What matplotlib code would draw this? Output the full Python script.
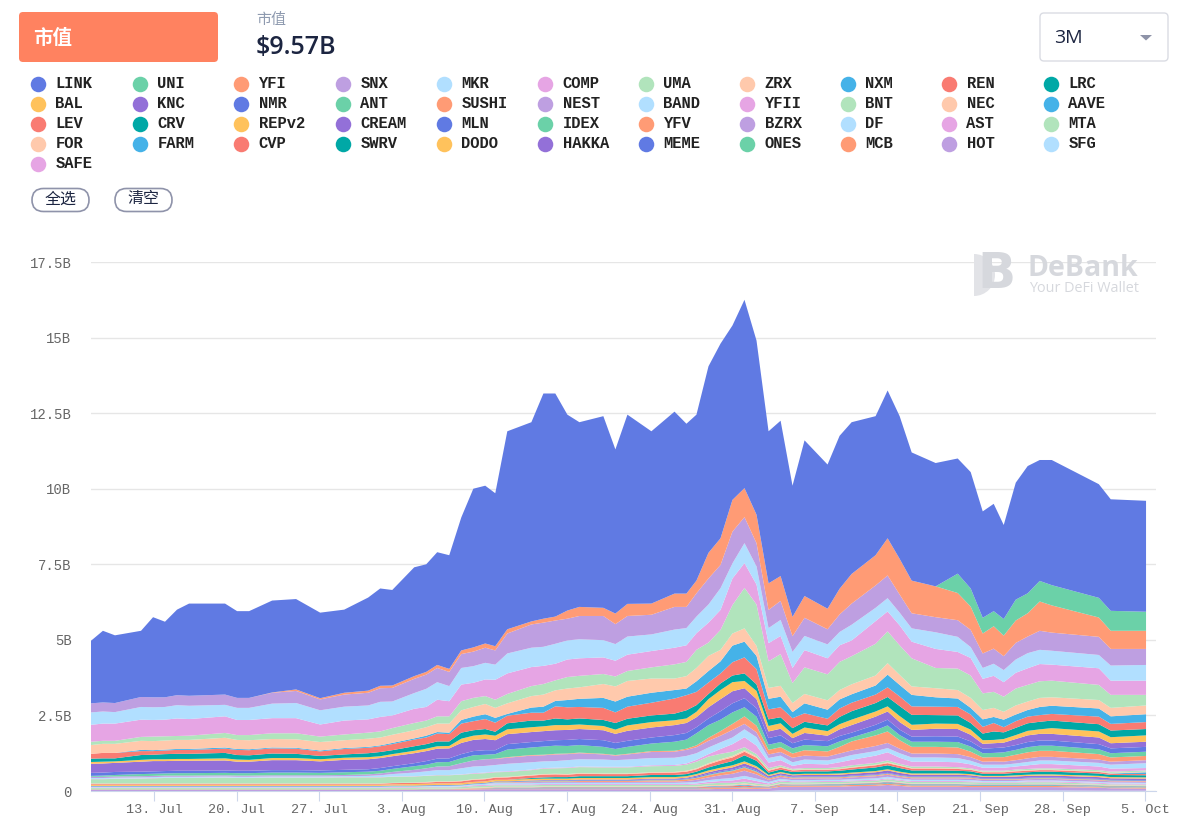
#!/usr/bin/env python3
"""DeBank style stacked market cap chart, values read off the screenshot."""

import datetime as dt

import matplotlib
matplotlib.use("Agg")
import matplotlib.dates as mdates
import matplotlib.pyplot as plt
import numpy as np
from matplotlib.patches import FancyBboxPatch, Polygon, Wedge

CJK = ["Noto Sans CJK SC", "DejaVu Sans"]
MONO = "Liberation Mono"

names = [
    "LINK", "UNI", "YFI", "SNX", "MKR", "COMP", "UMA", "ZRX", "NXM", "REN", "LRC",
    "BAL", "KNC", "NMR", "ANT", "SUSHI", "NEST", "BAND", "YFII", "BNT", "NEC", "AAVE",
    "LEV", "CRV", "REPv2", "CREAM", "MLN", "IDEX", "YFV", "BZRX", "DF", "AST", "MTA",
    "FOR", "FARM", "CVP", "SWRV", "DODO", "HAKKA", "MEME", "ONES", "MCB", "HOT", "SFG",
    "SAFE",
]
palette = [
    "#607AE3", "#6BD1A8", "#FF9B75", "#BE9FE1", "#B1DFFF", "#E6A5E4",
    "#B1E4BC", "#FFC9AC", "#45B2E8", "#F97B72", "#00A8A6", "#FFC25C", "#9370D8",
]

# days after 13 Jul 2020 of the points
days = [
    -5.34, -4.33, -3.31, -1.10, -0.08, 0.93, 1.95, 2.97, 6.02, 7.04,
    8.06, 10.01, 12.04, 14.08, 16.12, 18.15, 19.17, 20.19, 22.05, 23.07,
    24.00, 25.02, 26.04, 27.06, 28.07, 28.92, 29.94, 31.98, 33.00, 34.01,
    35.03, 36.05, 38.08, 39.10, 40.12, 42.15, 44.11, 45.12, 45.97, 46.99,
    48.01, 49.02, 50.04, 51.06, 52.08, 53.10, 54.11, 55.13, 57.08, 58.10,
    59.12, 61.15, 62.17, 63.19, 64.21, 66.24, 68.11, 69.21, 70.23, 71.16,
    72.01, 73.03, 74.04, 75.06, 76.08, 80.07, 81.08, 84.07,
]

# top of the whole stack, billions
stack_top = [
    4.97, 5.30, 5.15, 5.30, 5.75, 5.60, 6.00, 6.20, 6.20, 5.95,
    5.95, 6.30, 6.35, 5.90, 6.00, 6.40, 6.70, 6.65, 7.40, 7.50,
    7.90, 7.80, 9.05, 10.0, 10.1, 9.85, 11.9, 12.2, 13.15, 13.15,
    12.45, 12.2, 12.4, 11.3, 12.45, 11.9, 12.55, 12.15, 12.45, 14.05,
    14.8, 15.4, 16.25, 14.9, 11.9, 12.25, 10.1, 11.6, 10.8, 11.75,
    12.2, 12.4, 13.25, 12.4, 11.2, 10.85, 11.0, 10.55, 9.25, 9.5,
    8.8, 10.2, 10.75, 10.95, 10.95, 10.15, 9.65, 9.6,
]

# everything below in units of $10M
uni = [0,0,0,0,0, 0,0,0,0,0, 0,0,0,0,0, 0,0,0,0,0, 0,0,0,0,0, 0,0,0,0,0, 0,0,0,0,0, 0,0,0,0,0, 0,0,0,0,0, 0,0,0,0,0, 0,0,0,0,0, 0,64,60,52,50, 55,69,66,68,67, 65,66,63]
yfi = [0,0,0,0,0, 0,0,0,0,0, 0,1,5,4,6, 7,8,8,9,9, 10,10,12,14,14, 14,14,10,13,13, 27,30,27,35,40, 37,44,44,42,85, 88,105,96,94,88, 82,64,72,68,85, 98,100,123,118,108, 102,90,77,66,74, 68,74,77,97,90, 64,60,60]
snx = [30,30,30,33,33, 32,33,33,34,33, 33,36,40,36,40, 42,45,45,47,47, 47,47,46,48,50, 47,66,77,80,77, 72,77,80,66,68, 65,75,70,77,86, 77,105,86,77,60, 63,52,60,50,58, 70,74,75,60,50, 50,55,57,48,50, 46,55,55,63,60, 60,55,53]
mkr = [41,40,38,42,42, 42,44,44,38,40, 40,48,50,47,46, 46,50,46,52,60, 58,50,55,55,55, 50,66,64,63,66, 63,63,57,55,60, 55,60,57,55,60, 72,50,66,60,50, 53,53,47,46,44, 52,44,44,42,44, 55,50,36,36,40, 40,44,50,47,46, 44,50,52]
comp = [56,57,57,57,55, 55,58,55,55,50, 50,50,50,40,46, 44,48,42,47,45, 55,50,55,50,55, 66,68,63,60,55, 58,58,55,52,54, 54,55,55,55,66, 66,88,82,66,60, 60,50,57,53,55, 52,75,66,66,55, 63,55,58,48,53, 48,52,55,57,53, 55,47,47]
uma = [11,10,10,13,15, 14,13,14,16,16, 17,19,20,18,19, 20,20,22,24,22, 24,24,30,30,26, 27,31,33,35,33, 38,38,33,33,33, 37,47,47,60,44, 66,94,134,137,88, 105,66,88,86,93, 93,105,105,98,93, 67,71,74,55,53, 50,56,55,55,55, 50,43,35]
zrx = [29,30,30,30,30, 30,30,30,32,30, 30,28,28,28,26, 27,26,27,27,28, 28,30,32,32,34, 33,35,38,40,35, 38,38,46,50,52, 47,38,41,44,50, 38,40,44,33,36, 36,30,31,31,31, 33,33,38,33,28, 30,28,33,31,30, 26,30,28,30,28, 28,28,29]
nxm = [0,0,0,4,3, 3,3,3,4,3, 3,3,3,3,3, 3,3,4,4,6, 5,5,12,15,16, 16,6,17,20,18, 24,27,33,36,33, 33,28,22,35,38, 40,55,52,44,35, 35,20,33,30,30, 28,30,42,38,38, 31,28,22,25,20, 25,22,22,27,27, 27,25,26]
ren = [16,18,18,13,12, 12,13,13,14,17, 17,17,17,15,18, 18,19,20,22,22, 26,24,30,30,33, 30,25,26,26,40, 40,38,40,35,40, 42,50,50,44,38, 33,44,53,50,33, 33,33,28,22,28, 28,28,32,32,28, 28,28,28,22,28, 17,22,22,22,22, 25,22,23]
lrc = [11,11,10,16,15, 17,17,17,18,15, 15,15,14,11,11, 13,14,13,15,15, 16,15,20,18,18, 13,20,22,19,22, 19,20,20,22,22, 22,22,27,22,17, 22,22,25,22,22, 20,19,19,19,24, 28,28,31,33,33, 28,28,22,22,28, 22,24,25,25,25, 24,22,21]
bal = [6,6,5,6,6, 6,6,6,7,7, 6,7,7,7,7, 7,6,7,8,8, 8,8,14,14,15, 15,16,16,16,17, 16,15,14,14,18, 18,16,15,18,27, 30,30,24,27,18, 18,14,18,15,17, 18,17,17,20,17, 17,17,17,12,11, 12,13,15,15,19, 20,20,21]
knc = [30,30,30,33,34, 33,33,33,33,30, 30,33,33,30,33, 33,33,33,33,33, 33,33,37,37,37, 33,33,33,33,33, 33,33,33,30,33, 33,33,33,33,37, 40,40,33,30,22, 22,17,22,18,22, 25,27,27,25,22, 25,25,22,16,16, 16,20,22,22,22, 22,17,17]
nmr = [10,10,10,8,8, 8,8,8,8,8, 8,8,8,8,8, 8,9,9,10,12, 12,12,14,14,15, 13,18,18,18,18, 20,20,22,20,20, 20,22,22,20,22, 28,30,30,28,22, 22,17,18,17,18, 16,18,19,18,17, 18,18,17,15,16, 16,16,17,17,17, 17,16,16]
ant = [3,4,5,7,7, 7,8,8,8,8, 8,9,9,8,9, 9,9,10,12,12, 14,14,16,17,15, 15,25,25,27,27, 25,25,23,20,23, 25,30,30,40,42, 38,38,30,30,17, 17,17,17,17,18, 13,17,20,17,17, 17,18,17,14,14, 16,16,17,17,17, 16,14,14]
sushi = [0,0,0,0,0, 0,0,0,0,0, 0,0,0,0,0, 0,0,0,0,0, 0,0,0,0,0, 1,2,2,2,2, 2,2,2,2,2, 3,3,4,6,10, 15,20,25,22,15, 16,14,18,17,22, 30,35,38,28,22, 22,22,18,14,14, 15,18,20,20,20, 18,14,14]
nest = [4,4,4,4,4, 4,4,4,4,4, 4,4,4,4,4, 5,6,7,9,10, 12,13,17,20,22, 20,20,22,20,22, 20,20,17,15,17, 20,20,20,20,22, 22,25,18,16,12, 12,15,13,13,15, 15,17,17,15,13, 13,13,12,10,11, 10,11,12,12,12, 11,10,10]
band = [3,3,3,3,3, 3,3,3,3,3, 3,3,3,3,3, 4,6,8,12,14, 16,16,20,22,22, 22,25,24,22,22, 24,24,24,22,24, 24,24,25,22,22, 22,22,26,28,15, 15,12,14,13,14, 16,15,14,15,14, 14,14,12,10,10, 10,10,11,12,12, 12,13,16]
yfii = [1,1,1,1,1, 1,1,1,1,1, 1,1,1,1,1, 1,1,1,1,1, 1,1,1,2,2, 2,2,2,2,2, 2,2,2,2,2, 3,3,4,6,8, 16,25,33,28,18, 17,10,14,12,16, 18,24,27,20,16, 16,16,13,10,10, 10,10,12,14,14, 12,10,8]
bnt = [14,14,15,16,17, 18,18,18,19,18, 18,19,19,19,20, 20,20,20,20,20, 20,20,20,18,18, 16,16,16,18,18, 20,20,20,20,20, 20,20,20,22,22, 18,14,10,8,6, 5,3,4,4,5, 6,6,6,5,5, 5,4,3,3,3, 3,4,4,4,4, 4,4,4]
nec = [1,1,1,1,1, 1,1,1,1,1, 1,1,1,1,1, 1,1,1,1,2, 2,2,2,2,2, 2,2,2,2,2, 2,2,2,2,2, 2,2,3,3,4, 4,5,5,4,3, 3,2,2,2,2, 2,2,3,2,2, 2,2,2,2,2, 2,2,2,2,2, 2,2,2]
aave = [0,0,0,0,0, 0,0,0,0,0, 0,0,0,0,0, 0,0,0,0,0, 0,0,0,0,0, 0,0,0,0,0, 0,0,0,0,0, 0,0,0,0,0, 0,0,0,0,0, 0,0,0,0,0, 0,0,0,0,0, 0,0,0,0,0, 0,0,0,0,0, 0,1,6]
lev = [3,3,3,3,3, 3,3,3,3,3, 3,3,3,3,3, 3,3,4,4,4, 5,5,6,7,7, 7,8,8,9,9, 8,8,7,7,7, 7,8,8,8,10, 12,12,12,10,6, 6,5,5,5,5, 6,7,7,7,6, 6,6,5,5,5, 5,5,5,5,5, 5,4,4]
crv = [0,0,0,0,0, 0,0,0,0,0, 0,0,0,0,0, 0,0,0,0,0, 0,0,0,0,0, 0,0,3,4,5, 5,6,6,6,6, 7,7,7,8,10, 12,14,20,18,8, 8,8,8,8,9, 10,12,13,12,10, 10,9,9,7,7, 7,8,8,9,9, 8,7,7]
repv2 = [4,4,4,4,4, 4,4,4,4,4, 4,4,4,4,4, 4,4,4,5,5, 5,5,5,5,5, 5,5,5,5,5, 5,5,5,5,5, 5,5,5,5,6, 6,7,7,6,4, 4,3,4,4,4, 4,4,4,4,4, 4,4,4,3,3, 3,4,4,4,4, 4,4,4]
cream = [0,0,0,0,0, 0,0,0,0,0, 0,0,0,0,0, 0,0,0,0,0, 0,0,0,0,0, 0,0,1,1,1, 1,2,2,2,2, 3,3,3,4,5, 6,7,9,8,5, 5,5,5,5,6, 6,7,8,7,6, 6,6,5,5,5, 5,6,6,6,6, 6,5,5]
mln = [2,2,2,2,2, 2,2,2,2,2, 2,2,2,2,2, 2,2,2,2,2, 2,2,2,2,2, 2,2,2,2,2, 2,2,2,2,2, 2,2,2,3,3, 3,3,3,3,2, 2,2,2,2,2, 2,2,2,2,2, 2,2,2,2,2, 2,2,2,2,2, 2,2,2]
idex = [1,1,1,1,1, 1,1,1,1,1, 1,1,1,1,1, 1,1,1,1,1, 1,1,1,1,1, 1,1,1,1,1, 1,1,1,1,1, 1,1,1,1,2, 2,2,2,2,1, 1,1,1,1,1, 1,1,1,1,1, 1,1,1,1,1, 1,1,1,1,1, 1,1,1]
yfv = [0,0,0,0,0, 0,0,0,0,0, 0,0,0,0,0, 0,0,0,0,0, 0,0,0,0,0, 1,1,2,2,2, 2,3,3,3,3, 4,4,5,6,7, 8,9,10,8,4, 4,3,3,3,3, 3,3,3,3,3, 3,3,3,2,2, 2,2,2,2,2, 2,2,2]
bzrx = [0,0,0,0,0, 0,0,0,0,0, 0,0,0,0,0, 0,0,0,0,0, 0,0,0,0,0, 2,2,3,3,3, 3,3,3,3,3, 4,4,5,7,9, 12,14,17,14,7, 7,5,6,5,5, 6,7,7,6,5, 5,5,5,4,4, 4,4,4,5,5, 5,4,4]
df = [2,2,2,2,2, 2,2,2,2,2, 2,2,2,2,2, 2,2,2,2,2, 3,3,3,3,4, 4,4,4,4,4, 4,4,4,4,4, 4,4,5,5,6, 7,8,9,8,5, 5,4,4,4,4, 4,5,5,4,4, 4,4,4,3,3, 3,3,3,3,3, 3,3,3]
ast = [2,2,2,2,2, 2,2,2,2,2, 2,2,2,2,2, 2,2,2,2,2, 2,2,2,3,3, 3,3,3,3,3, 3,3,3,3,3, 3,3,3,4,5, 6,8,10,8,4, 4,3,3,3,3, 3,3,3,3,3, 3,3,3,2,2, 2,2,3,3,3, 3,3,3]
mta = [3,3,3,3,3, 3,3,3,3,3, 3,3,3,3,3, 3,3,4,4,4, 4,4,4,5,5, 5,5,5,5,5, 5,5,5,5,5, 5,5,5,6,6, 7,6,6,5,4, 6,5,5,5,5, 5,5,6,5,5, 5,5,5,5,5, 5,5,5,5,5, 3,3,3]
for_ = [1,1,1,1,1, 1,1,1,1,1, 1,1,1,1,1, 1,1,1,1,1, 1,1,1,2,2, 2,2,2,2,2, 2,2,2,2,2, 2,2,2,2,3, 3,3,4,3,2, 2,2,2,2,2, 2,2,2,2,2, 2,2,2,1,1, 1,1,2,2,2, 2,2,2]
farm = [0,0,0,0,0, 0,0,0,0,0, 0,0,0,0,0, 0,0,0,0,0, 0,0,0,0,0, 1,1,1,1,1, 1,1,1,1,1, 1,1,1,1,2, 2,2,3,2,1, 1,1,1,1,1, 1,1,2,1,1, 1,1,1,1,1, 1,1,1,1,1, 1,1,1]
cvp = [0,0,0,0,0, 0,0,0,0,0, 0,0,0,0,0, 0,0,0,0,0, 0,0,0,1,1, 1,1,1,2,2, 2,2,2,2,2, 2,2,2,2,3, 3,4,4,3,2, 2,1,1,1,1, 1,2,2,2,1, 1,1,1,1,1, 1,1,1,1,1, 1,1,1]
swrv = [0,0,0,0,0, 0,0,0,0,0, 0,0,0,0,0, 0,0,0,0,0, 0,0,0,0,0, 0,0,0,0,0, 0,0,0,0,0, 0,0,0,0,0, 0,0,0,0,0, 0,0,0,1,1, 1,1,1,1,1, 1,1,1,1,1, 1,1,1,1,1, 1,1,1]
dodo = [0,0,0,0,0, 0,0,0,0,0, 0,0,0,0,0, 0,0,0,0,0, 0,0,0,0,0, 0,0,0,0,0, 0,0,0,0,0, 0,0,0,0,0, 0,0,0,0,0, 0,0,0,0,0, 0,0,0,0,0, 0,0,0,0,0, 0,0,0,0,0, 1,1,1]
hakka = [0,0,0,0,0, 0,0,0,0,0, 0,0,0,0,0, 0,0,0,0,0, 0,0,0,0,0, 0,0,0,0,0, 0,0,0,0,0, 0,0,0,0,0, 0,0,0,0,0, 0,0,0,0,0, 0,0,0,0,0, 0,0,0,0,0, 0,0,0,0,0, 0,0,0]
meme = [0,0,0,0,0, 0,0,0,0,0, 0,0,0,0,0, 0,0,0,0,0, 0,0,0,0,0, 1,1,1,1,1, 1,1,1,1,1, 1,1,1,1,1, 1,1,1,1,1, 1,1,1,1,1, 1,1,1,1,1, 1,1,1,1,1, 1,1,1,1,1, 1,1,1]
ones = [1,1,1,1,1, 1,1,1,1,1, 1,1,1,1,1, 1,1,1,1,1, 1,1,1,1,1, 1,1,1,1,1, 1,1,1,1,1, 1,1,1,1,1, 1,1,1,1,1, 1,1,1,1,1, 1,1,1,1,1, 1,1,1,1,1, 1,1,1,1,1, 1,1,1]
mcb = [1,1,1,1,1, 1,1,1,1,1, 1,1,1,1,1, 1,1,1,1,1, 1,1,2,2,2, 2,2,2,2,2, 2,2,2,2,2, 2,2,2,2,3, 3,3,4,3,2, 4,4,4,4,4, 4,4,4,4,4, 4,4,4,4,4, 4,4,4,4,4, 2,2,2]
hot = [4,4,4,4,4, 4,4,4,4,4, 4,4,4,4,4, 4,4,4,4,5, 5,5,5,5,6, 6,6,6,6,6, 6,6,6,6,6, 6,6,6,6,6, 7,7,8,7,8, 12,12,12,12,12, 14,15,18,15,12, 12,12,11,11,11, 11,11,11,11,11, 10,8,7]
sfg = [0,0,0,0,0, 0,0,0,0,0, 0,0,0,0,0, 0,0,0,0,0, 0,0,0,0,0, 0,0,0,0,0, 0,0,0,0,0, 0,0,0,0,0, 0,0,0,0,0, 2,2,2,2,2, 2,2,2,2,2, 2,2,2,2,2, 2,2,2,2,2, 1,1,1]
safe = [0,0,0,0,0, 0,0,0,0,0, 0,0,0,0,0, 0,0,0,0,0, 0,0,0,0,0, 0,0,0,0,0, 0,0,0,0,0, 0,0,0,0,0, 0,0,0,0,0, 0,0,0,0,0, 0,0,0,0,0, 0,0,0,0,0, 0,0,0,0,0, 0,0,0]

others = [
    uni, yfi, snx, mkr, comp, uma, zrx, nxm, ren, lrc, bal, knc, nmr, ant, sushi,
    nest, band, yfii, bnt, nec, aave, lev, crv, repv2, cream, mln, idex, yfv, bzrx,
    df, ast, mta, for_, farm, cvp, swrv, dodo, hakka, meme, ones, mcb, hot, sfg, safe,
]

y_ticks = [0, 2.5, 5, 7.5, 10, 12.5, 15, 17.5]
y_labels = ["0", "2.5B", "5B", "7.5B", "10B", "12.5B", "15B", "17.5B"]
x_tick_days = [0, 7, 14, 21, 28, 35, 42, 49, 56, 63, 70, 77, 84]

W, H = 1179, 821
base = dt.datetime(2020, 7, 13)


def to_date(d):
    return mdates.date2num(base) + d


def main():
    for name, s in zip(names[1:], others):
        if len(s) != len(days):
            raise ValueError(f"{name}: {len(s)} points")

    rest = np.array(others, dtype=float) / 100
    link = np.array(stack_top) - rest.sum(axis=0)
    series = [link] + list(rest)
    colors = [palette[i % len(palette)] for i in range(len(series))]

    fig = plt.figure(figsize=(W / 100, H / 100), dpi=100)
    ax = fig.add_axes([91 / W, 1 - 791 / H, (1156 - 91) / W, (791 - 262) / H])

    x = to_date(np.array(days))
    ax.stackplot(x, series[::-1], colors=colors[::-1], linewidth=0, zorder=3)

    ax.set_xlim(to_date(days[0]), to_date(days[0]) + 1065 / 11.8)
    ax.set_ylim(0, 17.5)
    ax.set_yticks(y_ticks, labels=y_labels)
    ax.set_xticks(to_date(np.array(x_tick_days)))
    ax.xaxis.set_major_formatter(
        plt.FuncFormatter(lambda v, _: f"{mdates.num2date(v).day}. {mdates.num2date(v):%b}")
    )
    ax.grid(axis="y", color="#E6E6E6", linewidth=1, zorder=0)
    ax.set_axisbelow(True)
    for side in ["top", "left", "right"]:
        ax.spines[side].set_visible(False)
    ax.spines["bottom"].set_color("#CCD6EB")
    ax.tick_params(axis="x", length=7.2, color="#CCD6EB", pad=2, labelcolor="#666666", labelsize=9.7)
    ax.tick_params(axis="y", length=0, pad=14, labelcolor="#666666", labelsize=10)
    for lab in ax.get_xticklabels() + ax.get_yticklabels():
        lab.set_family(MONO)

    # header and legend are placed in pixel coordinates
    top = fig.add_axes([0, 0, 1, 1], facecolor="none")
    top.set_xlim(0, W)
    top.set_ylim(H, 0)
    top.axis("off")

    top.add_patch(FancyBboxPatch((21, 14), 195, 46, boxstyle="round,pad=2,rounding_size=4",
                                 fc="#FF8260", ec="none"))
    top.text(33, 38, "市值", color="white", fontsize=14, fontweight="bold", family=CJK, va="center")
    top.text(256, 20, "市值", color="#8E9AAF", fontsize=10.8, family=CJK, va="center")
    top.text(256, 47, "$9.57B", color="#1C2541", fontsize=18, fontweight="semibold",
             family="Open Sans", va="center")

    top.add_patch(FancyBboxPatch((1042, 15), 124, 44, boxstyle="round,pad=2,rounding_size=4",
                                 fc="white", ec="#DADCE3", lw=1))
    top.text(1054, 38, "3M", color="#1C2541", fontsize=14, family="Open Sans", va="center")
    top.add_patch(Polygon([(1140, 35), (1152, 35), (1146, 40.5)], fc="#8E93A8", ec="none"))

    col_x = [38, 140, 241, 343, 444, 545, 646, 747, 848, 949, 1051]
    for i, name in enumerate(names):
        row, col = divmod(i, 11)
        y = 84 + row * 20
        top.scatter(col_x[col], y, s=125, color=colors[i], linewidths=0)
        top.text(col_x[col] + 17.5, y, name, family=MONO, fontweight="bold", fontsize=11.2,
                 color="#222222", va="center")

    for left, label in [(32, "全选"), (115, "清空")]:
        top.add_patch(FancyBboxPatch((left, 188.5), 57, 23, boxstyle="round,pad=0,rounding_size=11.5",
                                     fc="white", ec="#8F93AA", lw=1.2))
        top.text(left + 28.5, 199, label, family=CJK, fontsize=11.5, color="#1C2541",
                 ha="center", va="center")

    # DeBank watermark
    top.add_patch(Wedge((974, 275), 21, -90, 90, fc="#E2E3E7", ec="none"))
    top.text(996, 274, "B", family="DejaVu Sans", fontweight="bold", fontsize=36, color="#D6D8DD",
             ha="center", va="center")
    top.text(1028, 269, "DeBank", family="Open Sans", fontweight="bold", fontsize=20.5, color="#D6D8DD",
             va="center")
    top.text(1029, 289, "Your DeFi Wallet", family="Open Sans", fontsize=10.4, color="#D6D8DD",
             va="center")

    fig.savefig("out.png", dpi=100)
    plt.close(fig)


if __name__ == "__main__":
    main()
